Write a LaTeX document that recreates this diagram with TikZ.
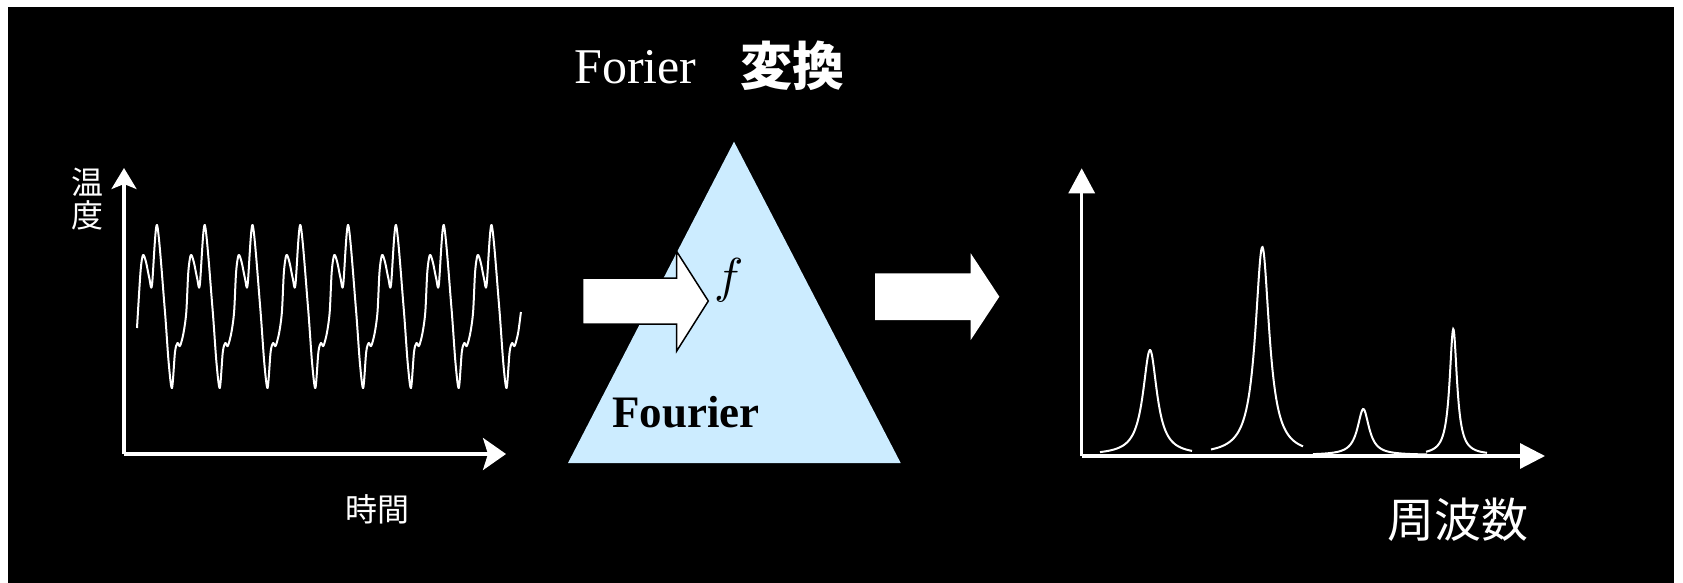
\documentclass[tikz,border=0pt]{standalone}
\usepackage{fontspec}
\setmainfont{Liberation Serif}
\newfontfamily\cjk{Noto Sans CJK JP}
\usetikzlibrary{arrows.meta}
\definecolor{tri}{HTML}{CCECFF}
\begin{document}
\begin{tikzpicture}[x=1pt,y=-1pt,
  wtxt/.style={text=white,inner sep=0pt},
  btxt/.style={text=black,inner sep=0pt},
  axisl/.style={white,line width=3.2pt},
  wave/.style={white,line width=2pt,line join=round},
  peakc/.style={white,line width=2pt},
  blockw/.style={fill=white,draw=black,line width=1.5pt,line join=miter}]
\useasboundingbox (0,0) rectangle (1683,583);
\fill[white] (0,0) rectangle (1683,583);
\fill[black] (8,7) rectangle (1674,583);

% title
\node[wtxt,anchor=base west,font=\fontsize{50}{50}\selectfont] (t1) at (574,84) {Forier};
\node[wtxt,anchor=base west,font=\cjk\bfseries\fontsize{52}{52}\selectfont] (t2) at (740,86) {変換};

% prism
\coordinate (ta) at (734,141.7);
\coordinate (tb) at (568,463);
\coordinate (tc) at (900.7,463);
\fill[tri] (ta) -- (tb) -- (tc) -- cycle;

% block arrow into the prism
\filldraw[blockw] (582.7,278) -- (676.7,278) -- (676.7,251.5) -- (708.3,301)
  -- (676.7,351) -- (676.7,324) -- (582.7,324) -- cycle;
\node[btxt,scale=4.9] (f) at (729,280) {$f$};
\node[btxt,anchor=base west,font=\bfseries\fontsize{45}{45}\selectfont] (fo) at (612,427) {Fourier};

% block arrow out
\fill[white] (875,273.3) -- (970.7,273.3) -- (970.7,253.3) -- (999.3,296.7)
  -- (970.7,340) -- (970.7,320) -- (875,320) -- cycle;

% left axes
\coordinate (lo) at (124,454);
\coordinate (ly) at (124,168);
\coordinate (lx) at (506,454);
\draw[axisl,-{Stealth[length=21pt,width=25pt,inset=5pt]}] (lo) -- (ly);
\draw[axisl,-{Stealth[length=23pt,width=32pt,inset=5pt]}] (lo) -- (lx);

% waveform
\def\wpts{(137,328)}
\foreach \k in {0,...,7}{%
  \pgfmathsetmacro\p{157+47.8*\k}%
  \xdef\wpts{\wpts (\p-16.5,272) (\p-14,255) (\p-11,262) (\p-7.5,279) (\p-5,285)
    (\p,225) (\p+7.5,306) (\p+11.7,363) (\p+15,388) (\p+18,352) (\p+20.5,343)
    (\p+23,346) (\p+26.5,333) (\p+29.3,312)}%
}
\edef\tmpwave{\noexpand\draw[wave] plot[smooth,tension=0.5] coordinates {\wpts};}
\tmpwave

\node[wtxt,anchor=base,font=\cjk\fontsize{32}{32}\selectfont] (l1) at (87.5,194.5) {温};
\node[wtxt,anchor=base,font=\cjk\fontsize{32}{32}\selectfont] (l2) at (87.5,227) {度};
\node[wtxt,anchor=base,font=\cjk\fontsize{32}{32}\selectfont] (l3) at (377,521.7) {時間};

% right axes
\coordinate (ro) at (1081.7,456);
\coordinate (ry) at (1081.7,168.3);
\coordinate (rx) at (1545,456);
\draw[axisl,-{Triangle[length=25pt,width=26pt]}] (ro) -- (ry);
\draw[axisl,-{Triangle[length=25pt,width=25pt]}] (ro) -- (rx);

% spectrum peaks
\draw[peakc] plot[domain=1100:1192,samples=140,smooth] (\x,{455-105*72/(72+(\x-1150)^2)});
\draw[peakc] plot[domain=1211:1303,samples=160,smooth] (\x,{455-208*72/(72+(\x-1262.3)^2)});
\draw[peakc] plot[domain=1313:1427,samples=140,smooth] (\x,{455-46*49/(49+(\x-1363.3)^2)});
\draw[peakc] plot[domain=1426:1487,samples=140,smooth] (\x,{455-126*20/(20+(\x-1453.3)^2)});

\node[wtxt,anchor=base,font=\cjk\fontsize{47}{47}\selectfont] (l4) at (1457.5,537) {周波数};
\end{tikzpicture}
\end{document}
